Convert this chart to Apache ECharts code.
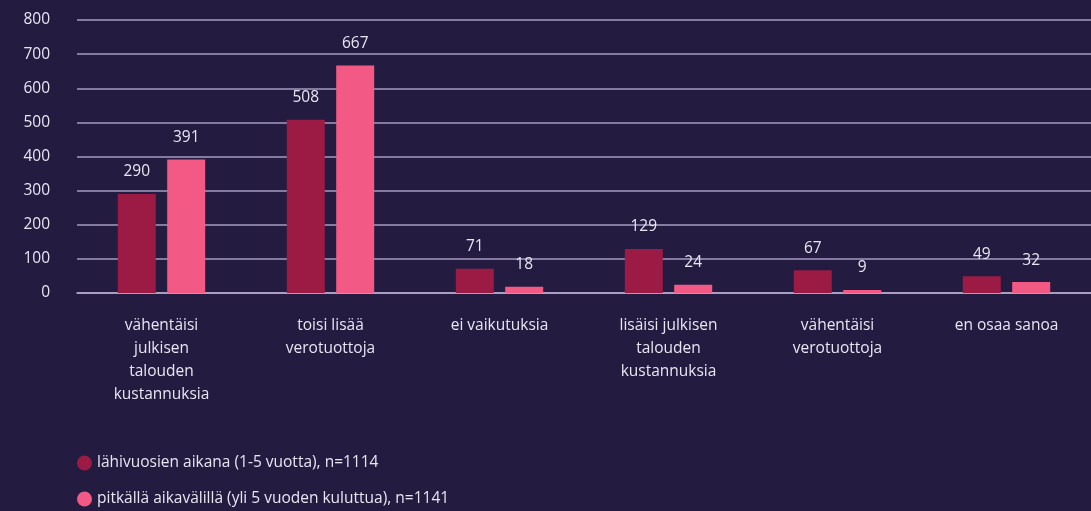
<!DOCTYPE html>
<html>
<head>
<meta charset="utf-8">
<script src="https://cdn.jsdelivr.net/npm/echarts@6/dist/echarts.min.js"></script>
<style>
  html, body { margin: 0; padding: 0; background: #231c40; }
  #chart { width: 1091px; height: 511px; }
</style>
</head>
<body>
<div id="chart"></div>
<script>
// kategoriat ja arvot
const categories = [
  "vähentäisi\njulkisen\ntalouden\nkustannuksia",
  "toisi lisää\nverotuottoja",
  "ei vaikutuksia",
  "lisäisi julkisen\ntalouden\nkustannuksia",
  "vähentäisi\nverotuottoja",
  "en osaa sanoa"
];
const seriesNames = [
  "lähivuosien aikana (1-5 vuotta), n=1114",
  "pitkällä aikavälillä (yli 5 vuoden kuluttua), n=1141"
];
const shortTerm = [290, 508, 71, 129, 67, 49];
const longTerm = [391, 667, 18, 24, 9, 32];
const yTicks = [0, 100, 200, 300, 400, 500, 600, 700, 800];

const font = "'Open Sans', sans-serif";
const textColor = "#e9e5f1";
const fs = 15.5;

const chart = echarts.init(document.getElementById("chart"));

const labelStyle = {
  show: true,
  position: "top",
  distance: 14,
  color: textColor,
  fontSize: fs,
  fontFamily: font
};

chart.setOption({
  backgroundColor: "#231c40",
  animation: false,
  grid: { left: 77, right: 0, top: 20, bottom: 218 },
  legend: {
    orient: "vertical",
    left: 72,
    top: 450,
    height: 120,
    itemGap: 20,
    icon: "circle",
    itemWidth: 15,
    itemHeight: 15,
    textStyle: { color: textColor, fontSize: fs, fontFamily: font },
    data: seriesNames
  },
  xAxis: {
    type: "category",
    data: categories,
    axisTick: { show: false },
    axisLine: { show: true, lineStyle: { color: "#b7abcf", width: 1.5 } },
    axisLabel: {
      color: textColor,
      fontSize: fs,
      fontFamily: font,
      lineHeight: 23,
      margin: 21,
      interval: 0
    }
  },
  yAxis: {
    type: "value",
    min: yTicks[0],
    max: yTicks[yTicks.length - 1],
    interval: 100,
    axisLine: { show: false },
    axisTick: { show: false },
    splitLine: { lineStyle: { color: "#a79bc2", width: 1.5 } },
    axisLabel: {
      color: textColor,
      fontSize: fs,
      fontFamily: font,
      margin: 27
    }
  },
  series: [
    {
      name: seriesNames[0],
      type: "bar",
      data: shortTerm,
      barWidth: 38,
      barGap: "30%",
      itemStyle: { color: "#9b1b45" },
      label: labelStyle
    },
    {
      name: seriesNames[1],
      type: "bar",
      data: longTerm,
      barWidth: 38,
      itemStyle: { color: "#f25a85" },
      label: labelStyle
    }
  ]
});
</script>
</body>
</html>
